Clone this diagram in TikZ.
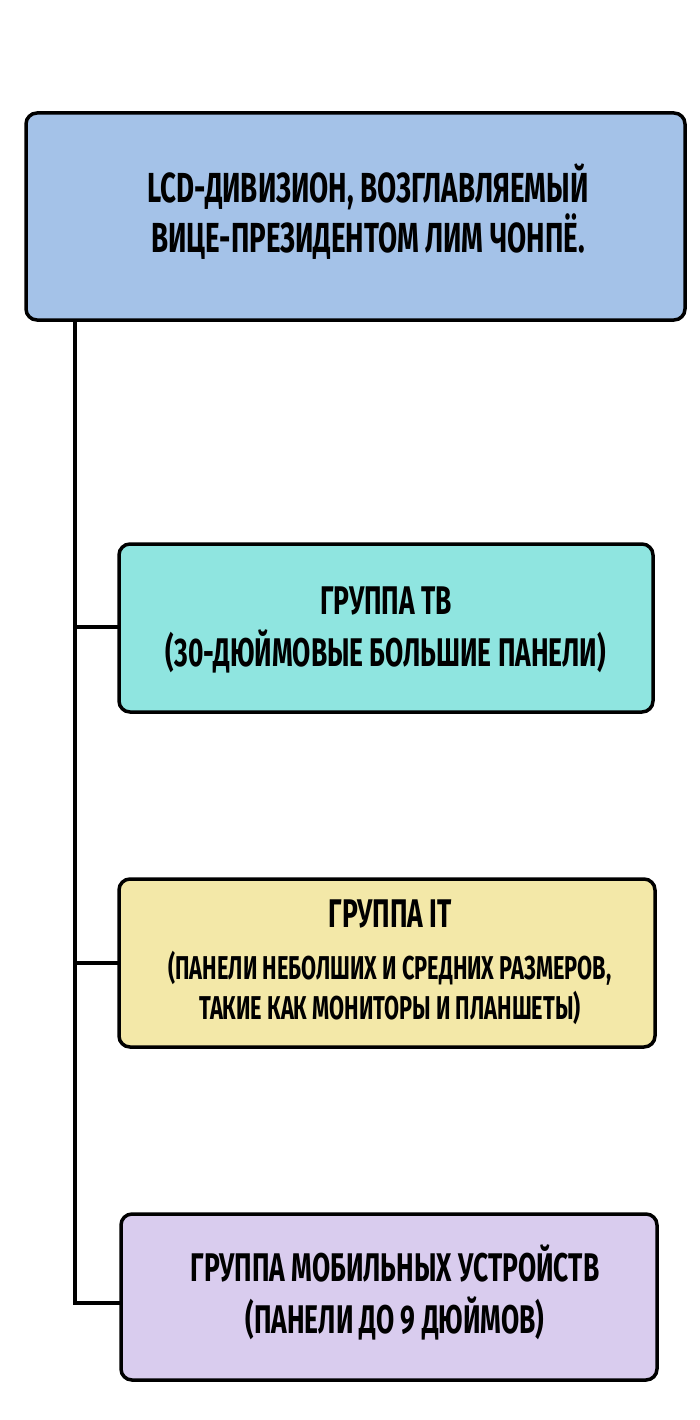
\documentclass[tikz,border=0pt]{standalone}
\usepackage{fontspec}
\setmainfont{Fira Sans}[FakeStretch=0.66]
\begin{document}
\begin{tikzpicture}[x=1pt, y=-1pt, line width=3.5pt,
  box/.style={draw, rounded corners=11pt},
  txt/.style={font=\bfseries, align=center, inner sep=0pt}]
\useasboundingbox (0,0) rectangle (700,1420);
\fill[white] (0,0) rectangle (700,1420);

% boxes
\draw[box, fill={rgb,255:red,164;green,194;blue,232}] (26,113) rectangle (685,320);
\draw[box, fill={rgb,255:red,143;green,229;blue,224}] (119,544) rectangle (653,712);
\draw[box, fill={rgb,255:red,243;green,232;blue,168}] (119,879) rectangle (655,1047);
\draw[box, fill={rgb,255:red,217;green,204;blue,238}] (121,1214) rectangle (657,1380);

% texts
\node[txt, font=\bfseries\fontsize{42}{50}\selectfont] (lcd) at (368,212)
  {LCD-ДИВИЗИОН, ВОЗГЛАВЛЯЕМЫЙ\\ВИЦЕ-ПРЕЗИДЕНТОМ ЛИМ ЧОНПЁ.};
\node[txt, font=\bfseries\fontsize{40}{52}\selectfont] (tv) at (386,630)
  {ГРУППА ТВ\\(30-ДЮЙМОВЫЕ БОЛЬШИЕ ПАНЕЛИ)};
\node[txt, font=\bfseries\fontsize{40}{48}\selectfont] (itt) at (390,914) {ГРУППА IT};
\node[txt, font=\bfseries\fontsize{33}{40}\selectfont] (it) at (390,988)
  {(ПАНЕЛИ НЕБОЛШИХ И СРЕДНИХ РАЗМЕРОВ,\\ТАКИЕ КАК МОНИТОРЫ И ПЛАНШЕТЫ)};
\node[txt, font=\bfseries\fontsize{40}{52}\selectfont] (mob) at (395,1292)
  {ГРУППА МОБИЛЬНЫХ УСТРОЙСТВ\\(ПАНЕЛИ ДО 9 ДЮЙМОВ)};

% connectors
\coordinate (top) at (75,320);
\coordinate (kv) at (75,627);
\coordinate (ki) at (75,963);
\coordinate (km) at (75,1303);
\draw (top) -- (km) -- (121,1303);
\draw (kv) -- (119,627);
\draw (ki) -- (119,963);
\end{tikzpicture}
\end{document}
